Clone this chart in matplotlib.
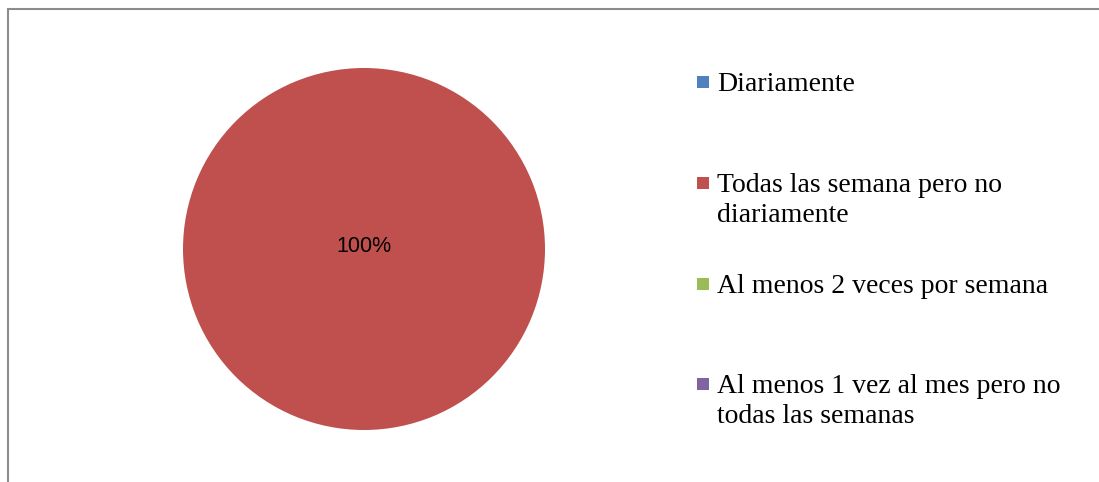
import matplotlib
matplotlib.use("Agg")
import matplotlib.pyplot as plt
from matplotlib.patches import Rectangle

# -----------------------------
# DATA
# -----------------------------
categories = [
    "Diariamente",
    "Todas las semana pero no\ndiariamente",
    "Al menos 2 veces por semana",
    "Al menos 1 vez al mes pero no\ntodas las semanas",
]
values = [0, 100, 0, 0]
colors = ["#4F81BD", "#C0504D", "#9BBB59", "#8064A2"]
# -----------------------------

W, H = 1099, 482
fig = plt.figure(figsize=(W / 100, H / 100), dpi=100)

# pie axes: centre (364, 249) px, radius 181 px
cx, cy, r = 364, 249, 181
ax = fig.add_axes([(cx - r) / W, (H - cy - r) / H, 2 * r / W, 2 * r / H])

def pct_label(p):
    return f"{p:.0f}%" if p > 0 else ""

wedges, texts, autotexts = ax.pie(values, colors=colors, startangle=90, counterclock=False,
                                  autopct=pct_label, pctdistance=0.0, radius=1,
                                  wedgeprops=dict(linewidth=0))
for t in autotexts:
    t.set_fontfamily("Liberation Sans")
    t.set_fontsize(15.5)
    t.set_color("black")
    t.set_position((0, 0.015))
ax.set_xlim(-1, 1)
ax.set_ylim(-1, 1)
ax.set_aspect("equal")
ax.axis("off")

# legend, Excel-style: entries at even steps, marker on the first line
x_box, y0, step, box = 697, 82, 100.8, 12
for i, (lab, c) in enumerate(zip(categories, colors)):
    y = y0 + i * step
    fig.add_artist(Rectangle((x_box / W, (H - y - box / 2) / H), box / W, box / H,
                             transform=fig.transFigure, facecolor=c, edgecolor="none"))
    fig.text(717 / W, (H - y + 10) / H, lab, ha="left", va="top",
             fontfamily="Liberation Serif", fontsize=20, linespacing=1.25)

# chart-area frame (only top and left edges visible)
fig.add_artist(Rectangle((8 / W, -0.1), 1.2, (H - 9) / H + 0.1, transform=fig.transFigure,
                         facecolor="none", edgecolor="#8C8C8C", linewidth=1.5))

fig.savefig("out.png", dpi=100)
